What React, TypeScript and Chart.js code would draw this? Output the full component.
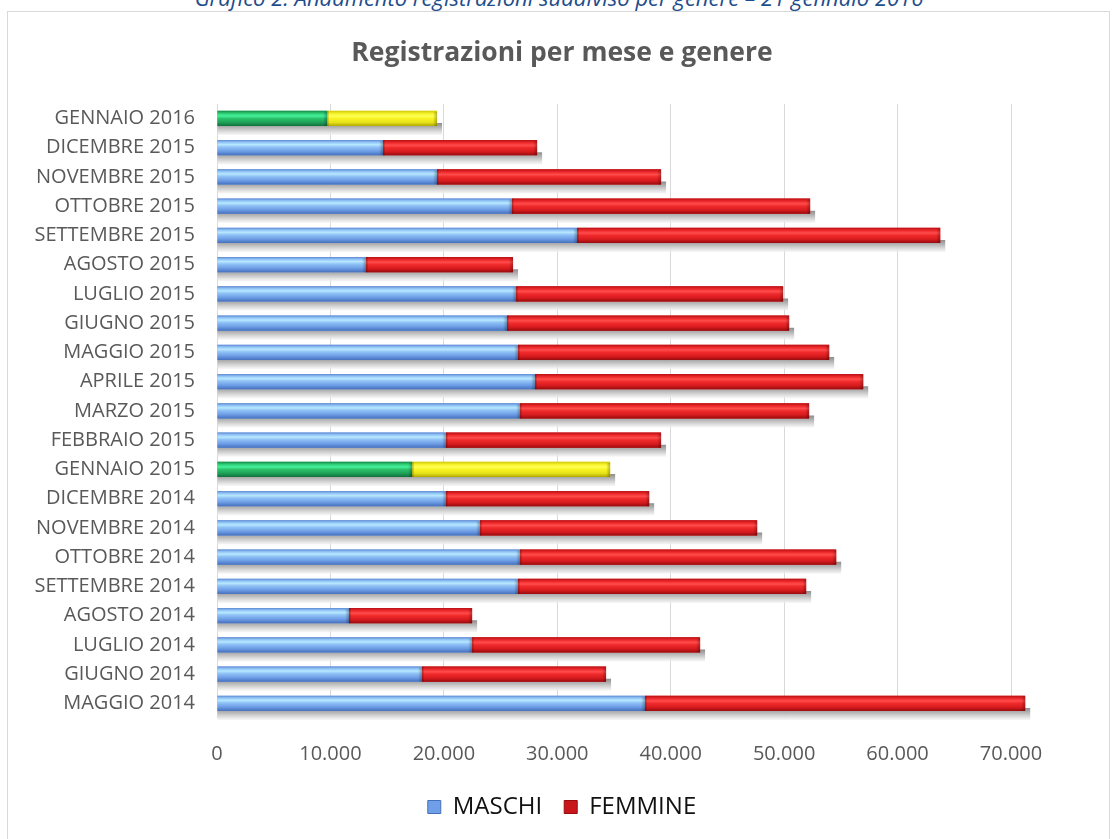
import React, { useEffect, useRef } from "react";
import { Chart, registerables } from "chart.js";

Chart.register(...registerables);

// Data (bottom -> top, chronological)
const categories = [
  "MAGGIO 2014", "GIUGNO 2014", "LUGLIO 2014", "AGOSTO 2014", "SETTEMBRE 2014",
  "OTTOBRE 2014", "NOVEMBRE 2014", "DICEMBRE 2014", "GENNAIO 2015", "FEBBRAIO 2015",
  "MARZO 2015", "APRILE 2015", "MAGGIO 2015", "GIUGNO 2015", "LUGLIO 2015",
  "AGOSTO 2015", "SETTEMBRE 2015", "OTTOBRE 2015", "NOVEMBRE 2015", "DICEMBRE 2015",
  "GENNAIO 2016",
];
const maschi = [
  37740, 18080, 22490, 11640, 26540, 26720, 23190, 20190, 17200, 20190,
  26720, 28040, 26540, 25570, 26370, 13140, 31750, 26010, 19400, 14640, 9700,
];
const femmine = [
  33510, 16220, 20100, 10850, 25400, 27870, 24430, 17910, 17460, 18960,
  25480, 28930, 27430, 24870, 23540, 12960, 32010, 26280, 19750, 13580, 9700,
];
const seriesNames = ["MASCHI", "FEMMINE"];
const xTickLabels = ["0", "10.000", "20.000", "30.000", "40.000", "50.000", "60.000", "70.000"];
const highlighted = ["GENNAIO 2015", "GENNAIO 2016"];

const TEXT = "#595959";
const FONT = "'Open Sans', sans-serif";

const GRADS: Record<string, [number, string][]> = {
  blue: [[0, "#5f88d2"], [0.14, "#8fc3f6"], [0.3, "#b8e8ff"], [0.46, "#90c2f6"], [0.72, "#6f9fe6"], [1, "#4670be"]],
  red: [[0, "#b81014"], [0.18, "#ee2a2c"], [0.34, "#ff4c4c"], [0.5, "#f02a2b"], [0.76, "#d61b1e"], [1, "#980b0e"]],
  green: [[0, "#168a48"], [0.18, "#2fd077"], [0.34, "#46f29c"], [0.5, "#2cc26b"], [0.76, "#1ea058"], [1, "#11703e"]],
  yellow: [[0, "#cfc80c"], [0.18, "#f6f22a"], [0.34, "#ffff55"], [0.5, "#f8f424"], [0.76, "#e6e21a"], [1, "#b0a800"]],
};
const SOLID: Record<string, string> = { blue: "#77a6ea", red: "#e3201f", green: "#27b565", yellow: "#f4f020" };

function paletteFor(ds: number, label: string) {
  const hl = highlighted.includes(label);
  if (ds === 0) return hl ? "green" : "blue";
  return hl ? "yellow" : "red";
}

const bevelPlugin = {
  id: "bevel3d",
  beforeDatasetsDraw(chart: any) {
    const ctx = chart.ctx;
    const m0 = chart.getDatasetMeta(0);
    const m1 = chart.getDatasetMeta(1);
    ctx.save();
    m0.data.forEach((el: any, i: number) => {
      const a = el.getProps(["x", "y", "base", "height"], true);
      const b = m1.data[i].getProps(["x", "y", "base", "height"], true);
      const left = Math.min(a.base, a.x);
      const right = Math.max(b.x, b.base) + 5;
      const bottom = a.y + a.height / 2;
      const g = ctx.createLinearGradient(0, bottom - 3, 0, bottom + 9);
      g.addColorStop(0, "rgba(140,140,140,1)");
      g.addColorStop(0.45, "rgba(190,190,190,1)");
      g.addColorStop(0.75, "rgba(222,222,222,0.95)");
      g.addColorStop(1, "rgba(240,240,240,0.6)");
      ctx.fillStyle = g;
      ctx.fillRect(left, bottom - 3, right - left, 12);
    });
    ctx.restore();
  },
  afterDatasetsDraw(chart: any) {
    const ctx = chart.ctx;
    ctx.save();
    [0, 1].forEach((ds) => {
      const meta = chart.getDatasetMeta(ds);
      meta.data.forEach((el: any, i: number) => {
        const p = el.getProps(["x", "y", "base", "height"], true);
        const left = Math.min(p.base, p.x);
        const right = Math.max(p.base, p.x);
        const top = p.y - p.height / 2;
        const h = p.height;
        const key = paletteFor(ds, chart.data.labels[i]);
        const g = ctx.createLinearGradient(0, top, 0, top + h);
        GRADS[key].forEach(([o, c]) => g.addColorStop(o, c));
        ctx.fillStyle = g;
        ctx.fillRect(left, top, right - left, h);
        const cap = ctx.createLinearGradient(right - 4, 0, right, 0);
        cap.addColorStop(0, "rgba(0,0,0,0)");
        cap.addColorStop(1, "rgba(0,0,0,0.28)");
        ctx.fillStyle = cap;
        ctx.fillRect(right - 4, top + 1, 4, h - 1);
        if (ds === 1) {
          ctx.fillStyle = "rgba(0,0,0,0.25)";
          ctx.fillRect(left, top, 1.5, h);
        }
      });
    });
    ctx.restore();
  },
};

export default function App() {
  const ref = useRef<HTMLCanvasElement>(null);

  useEffect(() => {
    if (!ref.current) return;
    const chart = new Chart(ref.current, {
      type: "bar",
      data: {
        labels: categories,
        datasets: [
          {
            label: seriesNames[0],
            data: maschi,
            backgroundColor: categories.map((c) => SOLID[paletteFor(0, c)]),
            barPercentage: 0.52,
            categoryPercentage: 1,
            clip: false as any,
          },
          {
            label: seriesNames[1],
            data: femmine,
            backgroundColor: categories.map((c) => SOLID[paletteFor(1, c)]),
            barPercentage: 0.52,
            categoryPercentage: 1,
            clip: false as any,
          },
        ],
      },
      options: {
        indexAxis: "y",
        responsive: false,
        animation: false,
        devicePixelRatio: 1,
        layout: { padding: { left: 30, right: 24, top: 0, bottom: 10 } },
        scales: {
          x: {
            stacked: true,
            min: 0,
            max: 70000,
            ticks: {
              stepSize: 10000,
              color: TEXT,
              font: { family: FONT, size: 20 },
              padding: 24,
              callback: (_v: any, i: number) => xTickLabels[i],
            },
            grid: { color: "#d9d9d9", lineWidth: 1, drawTicks: false },
            border: { display: false },
            afterFit: (s: any) => {
              s.height = 55;
            },
          },
          y: {
            stacked: true,
            reverse: true,
            ticks: {
              color: TEXT,
              font: { family: FONT, size: 20 },
              padding: 22,
              autoSkip: false,
            },
            grid: { display: false, drawTicks: false },
            border: { display: false },
            afterFit: (s: any) => {
              s.width = 187;
            },
          },
          yRight: {
            type: "category",
            position: "right",
            ticks: { display: false },
            grid: { display: false, drawTicks: false },
            border: { display: false },
            afterFit: (s: any) => {
              s.width = 83;
            },
          },
        },
        plugins: {
          title: {
            display: true,
            text: "Registrazioni per mese e genere",
            color: TEXT,
            font: { family: FONT, size: 26.5, weight: "bold" },
            padding: { top: 38, bottom: 34 },
          },
          legend: {
            position: "bottom",
            labels: {
              color: "#111111",
              font: { family: FONT, size: 24 },
              boxWidth: 13,
              boxHeight: 13,
              padding: 22,
              generateLabels: () => [
                { text: seriesNames[0], fillStyle: "#6f9fe6", strokeStyle: "#4670be", lineWidth: 1, datasetIndex: 0, fontColor: "#111111" },
                { text: seriesNames[1], fillStyle: "#c8161a", strokeStyle: "#980b0e", lineWidth: 1, datasetIndex: 1, fontColor: "#111111" },
              ] as any,
            },
          },
          tooltip: { enabled: false },
        },
      },
      plugins: [bevelPlugin],
    });
    return () => chart.destroy();
  }, []);

  return (
    <div style={{ position: "fixed", left: 0, top: 0, width: 1118, height: 839, background: "#fff", overflow: "hidden" }}>
      <div
        style={{
          position: "absolute",
          left: 0,
          top: -15,
          width: 1118,
          textAlign: "center",
          fontFamily: FONT,
          fontStyle: "italic",
          fontSize: 22,
          lineHeight: "24px",
          color: "#1f4e8c",
          whiteSpace: "nowrap",
        }}
      >
        Grafico 2: Andamento registrazioni suddiviso per genere – 21 gennaio 2016
      </div>
      <div
        style={{
          position: "absolute",
          left: 7,
          top: 11,
          width: 1103,
          height: 840,
          border: "1px solid #d9d9d9",
          boxSizing: "border-box",
        }}
      />
      <canvas ref={ref} width={1118} height={839} style={{ position: "absolute", left: 0, top: 0, width: 1118, height: 839 }} />
    </div>
  );
}
